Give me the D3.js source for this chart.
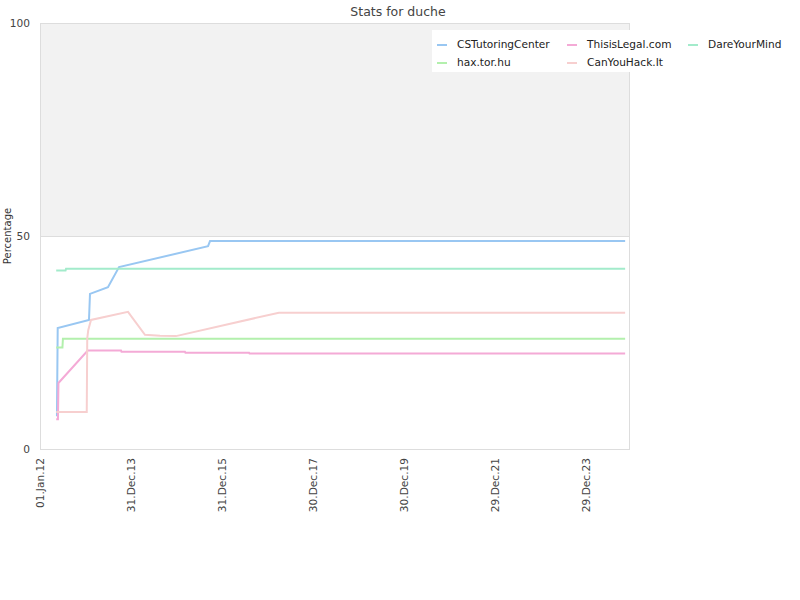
<!DOCTYPE html>
<html><head><meta charset="utf-8">
<script src="https://cdn.jsdelivr.net/npm/d3@7"></script>
<style>body{margin:0;background:#fff;font-family:"DejaVu Sans",sans-serif;}</style>
</head><body>
<svg id="c" width="800" height="600"></svg>
<script>
const seriesNames = ["CSTutoringCenter","ThisisLegal.com","DareYourMind","hax.tor.hu","CanYouHack.It"];
const seriesColors = ["#99c7f2","#f4aad6","#a3ebcb","#b3f0ad","#f7cfcf"];
const csTutoringDates = ["2012-05-16","2012-05-22","2013-01-28","2013-02-05","2013-06-29","2013-09-26","2015-09-10","2015-09-26","2024-11-07"];
const csTutoringValues = [7.7,28.4,30.3,36.4,38.0,42.7,47.6,48.8,48.8];
const thisisLegalDates = ["2012-05-10","2012-05-24","2012-05-28","2013-01-18","2013-10-12","2013-10-16","2015-03-09","2015-03-13","2016-08-04","2016-08-08","2024-11-07"];
const thisisLegalValues = [7.0,7.0,15.5,23.1,23.1,22.8,22.8,22.6,22.6,22.4,22.4];
const dareYourMindDates = ["2012-05-10","2012-07-24","2012-07-28","2024-11-07"];
const dareYourMindValues = [41.9,41.9,42.3,42.3];
const haxTorDates = ["2012-05-10","2012-06-29","2012-07-03","2024-11-07"];
const haxTorValues = [23.8,23.8,25.9,25.9];
const canYouHackDates = ["2012-05-10","2013-01-10","2013-01-14","2013-01-22","2013-02-13","2013-12-07","2014-04-22","2014-08-21","2014-12-27","2017-03-31","2024-11-07"];
const canYouHackValues = [8.7,8.7,26.0,27.9,30.3,32.2,26.8,26.6,26.5,32.0,32.0];
const yTickValues = [0,50,100];
const xTickStart = "2012-01-01";
const xTickStepDays = 730;
const xTickCount = 7;

const parse = d3.utcParse("%Y-%m-%d");
const fmt = d3.utcFormat("%d.%b.%y");
const allDates = [csTutoringDates,thisisLegalDates,dareYourMindDates,haxTorDates,canYouHackDates];
const allValues = [csTutoringValues,thisisLegalValues,dareYourMindValues,haxTorValues,canYouHackValues];
const series = seriesNames.map((n,i)=>({name:n,color:seriesColors[i],
  pts: allDates[i].map((d,j)=>({d:parse(d),v:allValues[i][j]}))}));

const svg = d3.select("#c");
const L=40,R=630,T=23,B=449;
const x0 = parse(xTickStart);
const x = d3.scaleUtc().domain([x0, d3.utcDay.offset(x0,4733)]).range([L,R]);
const y = d3.scaleLinear().domain([0,100]).range([B,T]);

svg.append("rect").attr("x",L).attr("y",y(100)).attr("width",R-L).attr("height",y(50)-y(100)).attr("fill","#f2f2f2");
svg.append("line").attr("x1",L).attr("x2",R).attr("y1",y(50)+0.5).attr("y2",y(50)+0.5).attr("stroke","#dddddd");
svg.append("rect").attr("x",L+0.5).attr("y",T+0.5).attr("width",R-L-1).attr("height",B-T).attr("fill","none").attr("stroke","#dddddd");

svg.append("text").attr("x",398).attr("y",16).attr("text-anchor","middle").attr("font-size",12.5).attr("fill","#444").text("Stats for duche");

const ya = svg.append("g").attr("transform",`translate(${L},0)`).call(d3.axisLeft(y).tickValues(yTickValues).tickSize(0).tickPadding(10));
ya.select(".domain").remove();
ya.selectAll("text").attr("font-size",10.6).attr("fill","#444").attr("font-family","DejaVu Sans");
svg.append("text").attr("transform",`translate(11,${(T+B)/2}) rotate(-90)`).attr("text-anchor","middle").attr("font-size",10).attr("fill","#333").text("Percentage");

const xTicks = d3.range(xTickCount).map(k=>d3.utcDay.offset(x0,k*xTickStepDays));
const xa = svg.append("g").attr("transform",`translate(0,${B})`).call(d3.axisBottom(x).tickValues(xTicks).tickFormat(fmt).tickSize(0));
xa.select(".domain").remove();
xa.selectAll("text").attr("font-size",10.6).attr("fill","#444").attr("font-family","DejaVu Sans")
  .attr("text-anchor","end").attr("transform","rotate(-90)").attr("x",-9).attr("y",0).attr("dy","0.35em");

const line = d3.line().x(p=>x(p.d)).y(p=>y(p.v));
svg.append("g").selectAll("path").data(series).join("path")
  .attr("d",s=>line(s.pts)).attr("fill","none").attr("stroke",s=>s.color).attr("stroke-width",2);

svg.append("rect").attr("x",432).attr("y",30).attr("width",368).attr("height",42).attr("fill","#fff");
const legPos = [[437,44],[567,44],[688,44],[437,62],[567,62]];
const lg = svg.append("g").selectAll("g").data(series).join("g").attr("transform",(s,i)=>`translate(${legPos[i][0]},${legPos[i][1]})`);
lg.append("line").attr("x1",0).attr("x2",10).attr("y1",1).attr("y2",1).attr("stroke",s=>s.color).attr("stroke-width",2);
lg.append("text").attr("x",20).attr("y",0).attr("dy","0.35em").attr("font-size",10.6).attr("fill","#222").text(s=>s.name);
</script>
</body></html>
